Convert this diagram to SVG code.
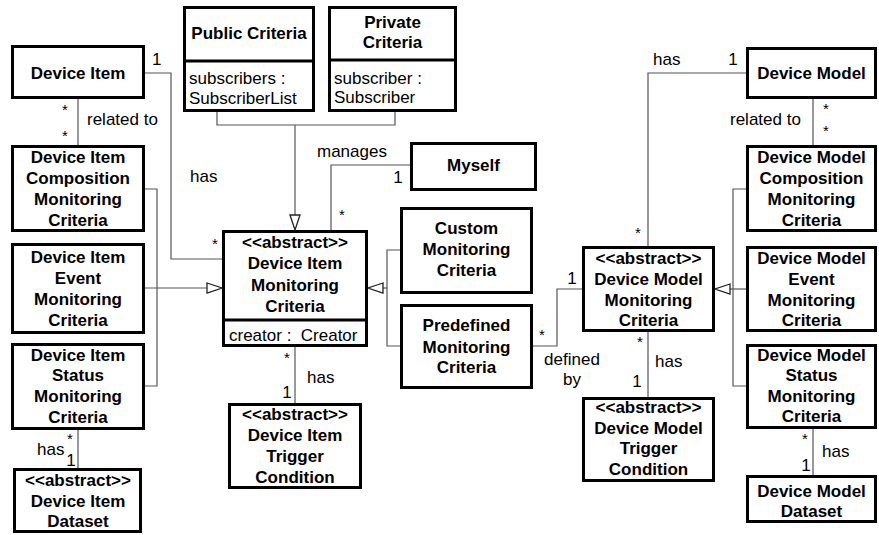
<svg xmlns="http://www.w3.org/2000/svg" width="879" height="535" viewBox="0 0 879 535">
  <style>
    .box { fill: #fff; stroke: #000; stroke-width: 3; }
    .div { stroke: #000; stroke-width: 3; }
    .t { font-family: "Liberation Sans", Arial, sans-serif; font-size: 17px; fill: #000; }
    .m { font-size: 15px; }
    .b { font-weight: bold; text-anchor: middle; }
    .c { text-anchor: middle; }
    .pre { white-space: pre; }
    .ln { fill: none; stroke: #555; stroke-width: 1.2; }
    .gen { fill: #fff; stroke: #222; stroke-width: 1.3; }
  </style>
  <rect width="879" height="535" fill="#fff"/>

  <!-- connectors -->
  <g id="connectors">
    <polyline class="ln" points="145,73 171,73 171,259 222,259"/>
    <line class="ln" x1="78" y1="99" x2="78" y2="145"/>
    <polyline class="ln" points="145,189 157,189 157,386 145,386"/>
    <line class="ln" x1="145" y1="288" x2="207" y2="288"/>
    <polygon class="gen" points="207,283 222,288 207,293"/>
    <line class="ln" x1="78" y1="430" x2="78" y2="468"/>
    <polyline class="ln" points="217,112 217,125 395,125 395,112"/>
    <line class="ln" x1="295" y1="125" x2="295" y2="215"/>
    <polygon class="gen" points="290,215 295,230 300,215"/>
    <polyline class="ln" points="410,165 331,165 331,230"/>
    <polyline class="ln" points="400,250 387,250 387,346 400,346"/>
    <line class="ln" x1="387" y1="288" x2="383" y2="288"/>
    <polygon class="gen" points="383,283 368,288 383,293"/>
    <line class="ln" x1="295" y1="347" x2="295" y2="403"/>
    <polyline class="ln" points="533,346 557,346 557,289 582,289"/>
    <polyline class="ln" points="746,73 648,73 648,246"/>
    <line class="ln" x1="813" y1="99" x2="813" y2="145"/>
    <line class="ln" x1="648" y1="332" x2="648" y2="397"/>
    <polyline class="ln" points="746,189 733,189 733,386 746,386"/>
    <line class="ln" x1="746" y1="289" x2="730" y2="289"/>
    <polygon class="gen" points="730,284 715,289 730,294"/>
    <line class="ln" x1="813" y1="429" x2="813" y2="475"/>

    <!-- association labels and multiplicities -->
    <text class="t" x="152" y="65">1</text>
    <text class="t" x="87" y="125">related to</text>
    <text class="t m c" x="65" y="115">*</text>
    <text class="t m c" x="65" y="141">*</text>
    <text class="t" x="190" y="182">has</text>
    <text class="t m c" x="215" y="249">*</text>
    <text class="t" x="37" y="455">has</text>
    <text class="t m c" x="70" y="444">*</text>
    <text class="t c" x="71" y="466">1</text>
    <text class="t" x="317" y="157">manages</text>
    <text class="t c" x="398" y="183">1</text>
    <text class="t m c" x="342" y="220">*</text>
    <text class="t m c" x="287" y="363">*</text>
    <text class="t c" x="287" y="398">1</text>
    <text class="t" x="307" y="383">has</text>
    <text class="t m c" x="542" y="340">*</text>
    <text class="t c" x="572" y="284">1</text>
    <text class="t c" x="572" y="365">defined</text>
    <text class="t c" x="572" y="385">by</text>
    <text class="t" x="653" y="65">has</text>
    <text class="t c" x="733" y="65">1</text>
    <text class="t m c" x="638" y="238">*</text>
    <text class="t" x="730" y="125">related to</text>
    <text class="t m c" x="826" y="114">*</text>
    <text class="t m c" x="826" y="136">*</text>
    <text class="t m c" x="640" y="347">*</text>
    <text class="t c" x="637" y="387">1</text>
    <text class="t" x="655" y="367">has</text>
    <text class="t m c" x="805" y="444">*</text>
    <text class="t c" x="806" y="471">1</text>
    <text class="t" x="822" y="457">has</text>
  </g>

  <!-- left column -->
  <g id="device-item">
    <rect class="box" x="12.5" y="46.5" width="131" height="51"/>
    <text class="t b" x="78" y="79">Device Item</text>
  </g>
  <g id="device-item-composition">
    <rect class="box" x="12.5" y="146.5" width="131" height="84"/>
    <text class="t b" x="78" y="163">Device Item</text>
    <text class="t b" x="78" y="184">Composition</text>
    <text class="t b" x="78" y="205">Monitoring</text>
    <text class="t b" x="78" y="226">Criteria</text>
  </g>
  <g id="device-item-event">
    <rect class="box" x="12.5" y="244.5" width="131" height="88"/>
    <text class="t b" x="78" y="263">Device Item</text>
    <text class="t b" x="78" y="284">Event</text>
    <text class="t b" x="78" y="305">Monitoring</text>
    <text class="t b" x="78" y="326">Criteria</text>
  </g>
  <g id="device-item-status">
    <rect class="box" x="12.5" y="344.5" width="131" height="84"/>
    <text class="t b" x="78" y="361">Device Item</text>
    <text class="t b" x="78" y="381">Status</text>
    <text class="t b" x="78" y="402">Monitoring</text>
    <text class="t b" x="78" y="423">Criteria</text>
  </g>
  <g id="device-item-dataset">
    <rect class="box" x="14.5" y="469.5" width="126" height="62"/>
    <text class="t b" x="78" y="486">&lt;&lt;abstract&gt;&gt;</text>
    <text class="t b" x="78" y="507">Device Item</text>
    <text class="t b" x="78" y="527">Dataset</text>
  </g>

  <!-- centre -->
  <g id="public-criteria">
    <rect class="box" x="184.5" y="7.5" width="129" height="103"/>
    <line class="div" x1="184.5" y1="61" x2="313.5" y2="61"/>
    <text class="t b" x="249" y="39">Public Criteria</text>
    <text class="t" x="189" y="84">subscribers :</text>
    <text class="t" x="189" y="104">SubscriberList</text>
  </g>
  <g id="private-criteria">
    <rect class="box" x="329.5" y="7.5" width="126" height="103"/>
    <line class="div" x1="329.5" y1="60" x2="455.5" y2="60"/>
    <text class="t b" x="392.5" y="28">Private</text>
    <text class="t b" x="392.5" y="48">Criteria</text>
    <text class="t" x="334" y="84">subscriber :</text>
    <text class="t" x="334" y="103">Subscriber</text>
  </g>
  <g id="myself">
    <rect class="box" x="411.5" y="143.5" width="124" height="46"/>
    <text class="t b" x="473.5" y="171">Myself</text>
  </g>
  <g id="device-item-monitoring-criteria">
    <rect class="box" x="223.5" y="231.5" width="143" height="114"/>
    <line class="div" x1="223.5" y1="320" x2="366.5" y2="320"/>
    <text class="t b" x="295" y="248">&lt;&lt;abstract&gt;&gt;</text>
    <text class="t b" x="295" y="269">Device Item</text>
    <text class="t b" x="295" y="291">Monitoring</text>
    <text class="t b" x="295" y="312">Criteria</text>
    <text class="t pre" x="229" y="341">creator :  Creator</text>
  </g>
  <g id="custom-monitoring-criteria">
    <rect class="box" x="401.5" y="208.5" width="130" height="84"/>
    <text class="t b" x="466.5" y="234">Custom</text>
    <text class="t b" x="466.5" y="255">Monitoring</text>
    <text class="t b" x="466.5" y="276">Criteria</text>
  </g>
  <g id="predefined-monitoring-criteria">
    <rect class="box" x="401.5" y="305.5" width="130" height="82"/>
    <text class="t b" x="466.5" y="331">Predefined</text>
    <text class="t b" x="466.5" y="353">Monitoring</text>
    <text class="t b" x="466.5" y="373">Criteria</text>
  </g>
  <g id="device-item-trigger-condition">
    <rect class="box" x="229.5" y="404.5" width="131" height="83"/>
    <text class="t b" x="295" y="420">&lt;&lt;abstract&gt;&gt;</text>
    <text class="t b" x="295" y="441">Device Item</text>
    <text class="t b" x="295" y="462">Trigger</text>
    <text class="t b" x="295" y="483">Condition</text>
  </g>
  <g id="device-model-monitoring-criteria">
    <rect class="box" x="583.5" y="247.5" width="130" height="83"/>
    <text class="t b" x="648.5" y="264">&lt;&lt;abstract&gt;&gt;</text>
    <text class="t b" x="648.5" y="285">Device Model</text>
    <text class="t b" x="648.5" y="306">Monitoring</text>
    <text class="t b" x="648.5" y="326">Criteria</text>
  </g>
  <g id="device-model-trigger-condition">
    <rect class="box" x="583.5" y="398.5" width="130" height="82"/>
    <text class="t b" x="648.5" y="413">&lt;&lt;abstract&gt;&gt;</text>
    <text class="t b" x="648.5" y="434">Device Model</text>
    <text class="t b" x="648.5" y="454">Trigger</text>
    <text class="t b" x="648.5" y="475">Condition</text>
  </g>

  <!-- right column -->
  <g id="device-model">
    <rect class="box" x="747.5" y="48.5" width="128" height="49"/>
    <text class="t b" x="811.5" y="79">Device Model</text>
  </g>
  <g id="device-model-composition">
    <rect class="box" x="747.5" y="146.5" width="128" height="84"/>
    <text class="t b" x="811.5" y="163">Device Model</text>
    <text class="t b" x="811.5" y="184">Composition</text>
    <text class="t b" x="811.5" y="205">Monitoring</text>
    <text class="t b" x="811.5" y="226">Criteria</text>
  </g>
  <g id="device-model-event">
    <rect class="box" x="747.5" y="247.5" width="128" height="83"/>
    <text class="t b" x="811.5" y="264">Device Model</text>
    <text class="t b" x="811.5" y="285">Event</text>
    <text class="t b" x="811.5" y="306">Monitoring</text>
    <text class="t b" x="811.5" y="326">Criteria</text>
  </g>
  <g id="device-model-status">
    <rect class="box" x="747.5" y="345.5" width="128" height="82"/>
    <text class="t b" x="811.5" y="361">Device Model</text>
    <text class="t b" x="811.5" y="381">Status</text>
    <text class="t b" x="811.5" y="402">Monitoring</text>
    <text class="t b" x="811.5" y="422">Criteria</text>
  </g>
  <g id="device-model-dataset">
    <rect class="box" x="747.5" y="476.5" width="128" height="45"/>
    <text class="t b" x="811.5" y="497">Device Model</text>
    <text class="t b" x="811.5" y="517">Dataset</text>
  </g>
</svg>
